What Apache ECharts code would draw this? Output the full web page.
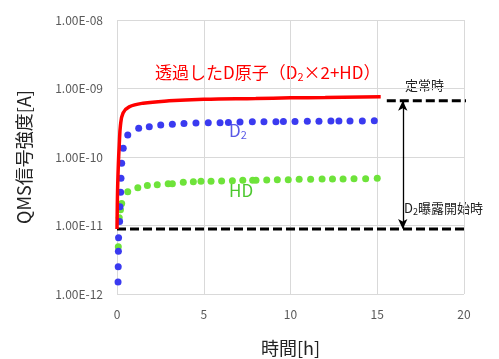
<!DOCTYPE html>
<html><head><meta charset="utf-8">
<script src="https://cdn.jsdelivr.net/npm/echarts@6/dist/echarts.min.js"></script>
<style>html,body{margin:0;padding:0;background:#fff}#c{width:499px;height:359px}</style>
</head><body><div id="c"></div>
<script>
// time [h]
const d2Time = [0.06,0.07,0.08,0.09,0.15,0.17,0.21,0.23,0.27,0.36,0.62,1.25,1.86,2.52,3.19,3.86,4.55,5.26,5.94,6.42,7.09,7.8,8.47,9.16,9.59,10.26,10.97,11.64,12.33,12.79,13.43,14.14,14.83];
const d2Val = [1.5e-12,2.5e-12,4.2e-12,6.6e-12,1.14e-11,1.88e-11,3.05e-11,4.9e-11,8.1e-11,1.34e-10,2.09e-10,2.62e-10,2.77e-10,2.93e-10,3.0e-10,3.08e-10,3.13e-10,3.16e-10,3.16e-10,3.2e-10,3.24e-10,3.26e-10,3.27e-10,3.28e-10,3.3e-10,3.3e-10,3.32e-10,3.33e-10,3.34e-10,3.34e-10,3.35e-10,3.36e-10,3.37e-10];
const hdTime = [0.075,0.13,0.2,0.27,0.62,1.2,1.75,2.32,2.95,3.19,3.82,4.4,4.84,5.42,6.03,6.65,7.25,7.82,8.01,8.63,9.24,9.87,10.5,11.16,11.82,12.42,13.03,13.66,14.33,15.0];
const hdVal = [4.9e-12,1.3e-11,1.7e-11,2.1e-11,3.1e-11,3.55e-11,3.85e-11,3.95e-11,4.08e-11,4.08e-11,4.27e-11,4.36e-11,4.42e-11,4.42e-11,4.46e-11,4.51e-11,4.57e-11,4.57e-11,4.57e-11,4.62e-11,4.67e-11,4.67e-11,4.72e-11,4.72e-11,4.77e-11,4.77e-11,4.77e-11,4.82e-11,4.82e-11,4.89e-11];
const dTime = [0,0.03,0.08,0.13,0.2,0.35,0.7,1.5,3,5,8,10,12,15.2];
const dVal = [8.9e-12,3e-11,8e-11,1.5e-10,2.9e-10,4.4e-10,5.4e-10,6.1e-10,6.6e-10,6.95e-10,7.15e-10,7.3e-10,7.4e-10,7.6e-10];
const baseLevel = 8.9e-12;     // D2曝露開始時
const steadyLevel = 6.6e-10;   // 定常時
const baseRange = [0, 23];
const steadyRange = [15.55, 23];
const arrowTime = 16.47;
const xTicks = [0,5,10,15,20];
const yTickLabels = ['1.00E-12','1.00E-11','1.00E-10','1.00E-09','1.00E-08'];

const font = '"Noto Sans CJK JP","Noto Sans",sans-serif';
const chart = echarts.init(document.getElementById('c'));
const zip = (a,b) => a.map((v,i)=>[v,b[i]]);
chart.setOption({
  animation:false,
  grid:{left:117,right:35,top:20,bottom:65,containLabel:false,outerBoundsMode:'none'},
  xAxis:{type:'value',min:xTicks[0],max:xTicks[xTicks.length-1],interval:5,
    name:'時間[h]',nameLocation:'middle',nameGap:45,
    nameTextStyle:{fontFamily:font,fontSize:18,color:'#222'},
    axisLine:{show:false},axisTick:{show:false},
    axisLabel:{fontFamily:font,fontSize:12,color:'#595959',margin:14},
    splitLine:{lineStyle:{color:'#d9d9d9',width:1}}},
  yAxis:{type:'log',min:1e-12,max:1e-8,logBase:10,
    name:'QMS信号強度[A]',nameLocation:'middle',nameGap:84,
    nameTextStyle:{fontFamily:font,fontSize:18,color:'#222'},
    axisLine:{show:false},axisTick:{show:false},
    axisLabel:{fontFamily:font,fontSize:12,color:'#595959',margin:14,
      formatter:(v)=>{const e=Math.round(Math.log10(v));return yTickLabels[e+12];}},
    splitLine:{lineStyle:{color:'#d9d9d9',width:1}}},
  series:[
    {type:'line',data:baseRange.map(t=>[t,baseLevel]),clip:false,symbol:'none',silent:true,
      lineStyle:{color:'#000',width:3,type:[9,4]},z:1},
    {type:'line',data:steadyRange.map(t=>[t,steadyLevel]),clip:false,symbol:'none',silent:true,
      lineStyle:{color:'#000',width:3,type:[9,4]},z:1,
      markLine:{symbol:['arrow','arrow'],symbolSize:[7,10],silent:true,label:{show:false},
        lineStyle:{color:'#000',width:1.3,type:'solid'},
        data:[[{coord:[arrowTime,steadyLevel]},{coord:[arrowTime,baseLevel]}]]}},
    {type:'scatter',data:zip(hdTime,hdVal),symbolSize:7,itemStyle:{color:'#6ee33a',opacity:1},z:3},
    {type:'scatter',data:zip(d2Time,d2Val),symbolSize:7,itemStyle:{color:'#3a3af0',opacity:1},z:4},
    {type:'line',data:zip(dTime,dVal),smooth:0.4,symbol:'none',
      lineStyle:{color:'#ff0000',width:3.5},z:5}
  ],
  graphic:[
    {type:'text',left:155,top:64,style:{fontFamily:font,
      text:'{a|透過したD原子（D}{s|2}{a|×2+HD）}',
      rich:{a:{fontFamily:font,fontSize:17,fill:'#ff0000',color:'#ff0000'},
            s:{fontFamily:font,fontSize:11,fill:'#ff0000',color:'#ff0000',padding:[9,0,0,0]}}}},
    {type:'text',left:229,top:122,style:{fontFamily:font,
      text:'{a|D}{s|2}',
      rich:{a:{fontFamily:font,fontSize:17,fill:'#5a5ae6',color:'#5a5ae6'},
            s:{fontFamily:font,fontSize:11,fill:'#5a5ae6',color:'#5a5ae6',padding:[9,0,0,0]}}}},
    {type:'text',left:229,top:182,style:{fontFamily:font,text:'HD',fontSize:17,fill:'#4cc82e'}},
    {type:'text',left:405,top:79,style:{fontFamily:font,text:'定常時',fontSize:13,fill:'#222'}},
    {type:'text',left:404,top:202,style:{fontFamily:font,
      text:'{a|D}{s|2}{a|曝露開始時}',
      rich:{a:{fontFamily:font,fontSize:13,fill:'#222',color:'#222'},
            s:{fontFamily:font,fontSize:9,fill:'#222',color:'#222',padding:[6,0,0,0]}}}}
  ]
});
</script></body></html>
